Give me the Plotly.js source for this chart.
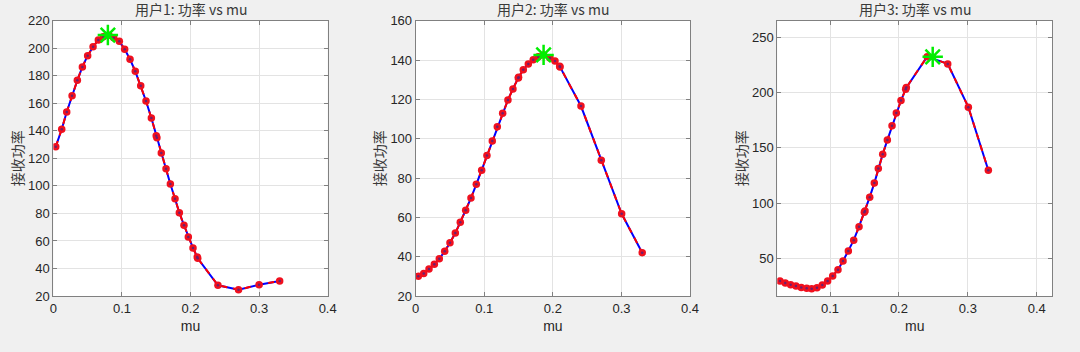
<!DOCTYPE html>
<html>
<head>
<meta charset="utf-8">
<script src="https://cdn.plot.ly/plotly-3.0.1.min.js"></script>
<style>html,body{margin:0;padding:0;background:#f0f0f0;}#chart{width:1080px;height:352px;}</style>
</head>
<body>
<div id="chart"></div>
<script>
// ---- data ----
const titles = ["用户1: 功率 vs mu", "用户2: 功率 vs mu", "用户3: 功率 vs mu"];
const xLabel = "mu";
const yLabel = "接收功率";

const mu1 = [0.0035, 0.0122, 0.0195, 0.0273, 0.035, 0.0423, 0.050, 0.0579, 0.0656, 0.0729, 0.0810, 0.0880, 0.0962, 0.104, 0.1118, 0.1195, 0.1274, 0.1351, 0.1429, 0.150, 0.151, 0.1574, 0.1643, 0.1706, 0.1774, 0.1837, 0.1905, 0.1968, 0.2036, 0.2098, 0.2105, 0.24, 0.27, 0.30, 0.33];
const p1  = [128.5, 141.1, 153.7, 165.5, 176.7, 186.4, 194.6, 201.1, 206, 208.4, 209.5, 207.7, 205, 199.2, 192, 183.2, 172.8, 161.7, 149.3, 136.5, 135, 123.9, 112.5, 101.4, 90.7, 80.5, 71.4, 62.9, 54.9, 48.3, 47.4, 27.8, 24.6, 28.2, 30.9];

const mu2 = [0.0038, 0.0117, 0.0194, 0.0272, 0.0344, 0.0423, 0.05, 0.0578, 0.065, 0.0729, 0.0806, 0.0884, 0.0962, 0.1039, 0.1117, 0.119, 0.1268, 0.1345, 0.1418, 0.1496, 0.1500, 0.1569, 0.1642, 0.1714, 0.1787, 0.1865, 0.1958, 0.2031, 0.2100, 0.2104, 0.241, 0.2706, 0.3003, 0.3303];
const p2  = [30.1, 31.5, 33.7, 36.1, 38.9, 42.7, 47.1, 52, 57.5, 63.6, 69.8, 76.8, 84, 91.5, 98.8, 106.1, 112.9, 119.7, 125.3, 130.9, 131.2, 135, 138, 140.2, 141.7, 142.6, 141, 139.5, 136.8, 136.5, 116.6, 89, 61.8, 42];

const mu3 = [0.0274, 0.0351, 0.0429, 0.0506, 0.0583, 0.0662, 0.0734, 0.0811, 0.0888, 0.0966, 0.1039, 0.1116, 0.1189, 0.1266, 0.1344, 0.1421, 0.1498, 0.1508, 0.1576, 0.1643, 0.1701, 0.1765, 0.1832, 0.19, 0.1962, 0.203, 0.2098, 0.2107, 0.241, 0.2708, 0.3007, 0.3297];
const p3  = [29.5, 27.7, 26.2, 25, 23.8, 22.9, 22.5, 23.4, 25.9, 29.5, 34, 39.7, 47.6, 56.6, 66.5, 78.7, 91.8, 92.8, 105.4, 118.1, 131.4, 144.3, 157, 169.9, 181.6, 192.8, 203, 204.5, 232.5, 225.9, 186.8, 129.8];

const bestMu = [0.0795, 0.1865, 0.249];
const bestP  = [209.6, 142.6, 232.3];

const xRanges = [[0, 0.4], [0, 0.4], [0.0235, 0.4226]];
const yRanges = [[20, 220], [20, 160], [16, 265]];
const yDtick  = [20, 20, 50];

// ---- build ----
const series = [[mu1, p1], [mu2, p2], [mu3, p3]];
const xDomains = [[0.0494, 0.3034], [0.3849, 0.6389], [0.7197, 0.9744]];
const yDomain = [0.1591, 0.9412];
const font = "Liberation Sans, Arial, Noto Sans CJK SC, sans-serif";
const cjk = "Noto Sans CJK SC, Liberation Sans, sans-serif";

const traces = [];
const layout = {
  width: 1080, height: 352,
  paper_bgcolor: "#f0f0f0", plot_bgcolor: "#ffffff",
  margin: {l: 0, r: 0, t: 0, b: 0},
  showlegend: false,
  font: {family: font, size: 12, color: "#262626"},
  annotations: []
};

series.forEach((s, i) => {
  const n = i + 1;
  const xa = n === 1 ? "x" : "x" + n;
  const ya = n === 1 ? "y" : "y" + n;
  traces.push({x: s[0], y: s[1], xaxis: xa, yaxis: ya, mode: "lines", line: {color: "#0000ff", width: 2}, hoverinfo: "skip"});
  traces.push({x: s[0], y: s[1], xaxis: xa, yaxis: ya, mode: "lines", line: {color: "#ff0000", width: 2, dash: "6px,6px"}, hoverinfo: "skip"});
  traces.push({x: s[0], y: s[1], xaxis: xa, yaxis: ya, mode: "markers", marker: {symbol: "circle", size: 7.5, color: "#f0101e", line: {width: 0}}});
  traces.push({x: s[0], y: s[1], xaxis: xa, yaxis: ya, mode: "markers", marker: {symbol: "circle", size: 2.5, color: "#6b1f6f", line: {width: 0}}, hoverinfo: "skip"});
  traces.push({x: [bestMu[i]], y: [bestP[i]], xaxis: xa, yaxis: ya, mode: "markers", marker: {symbol: "asterisk-open", size: 17, color: "#00ee00", line: {color: "#00ee00", width: 2.5}}});

  const common = {
    showline: true, linecolor: "#808080", linewidth: 1, mirror: "ticks",
    ticks: "inside", ticklen: 4, tickcolor: "#808080",
    showgrid: true, gridcolor: "#e3e3e3", gridwidth: 1, zeroline: false,
    tickfont: {family: font, size: 13, color: "#262626"}, automargin: false
  };
  layout["xaxis" + (n === 1 ? "" : n)] = Object.assign({}, common, {
    domain: xDomains[i], anchor: ya, range: xRanges[i], dtick: 0.1, tick0: 0,
    title: {text: xLabel, font: {family: font, size: 14, color: "#262626"}, standoff: 6}
  });
  layout["yaxis" + (n === 1 ? "" : n)] = Object.assign({}, common, {
    domain: yDomain, anchor: xa, range: yRanges[i], dtick: yDtick[i], tick0: 0,
    title: {text: yLabel, font: {family: cjk, size: 14, color: "#3a3a3a"}, standoff: 1}
  });
  layout.annotations.push({
    text: titles[i], xref: "paper", yref: "paper",
    x: (xDomains[i][0] + xDomains[i][1]) / 2, y: yDomain[1], yanchor: "bottom", xanchor: "center",
    yshift: 0, showarrow: false, font: {family: cjk, size: 14, color: "#3a3a3a"}
  });
});

Plotly.newPlot("chart", traces, layout, {displayModeBar: false, staticPlot: true});
</script>
</body>
</html>
